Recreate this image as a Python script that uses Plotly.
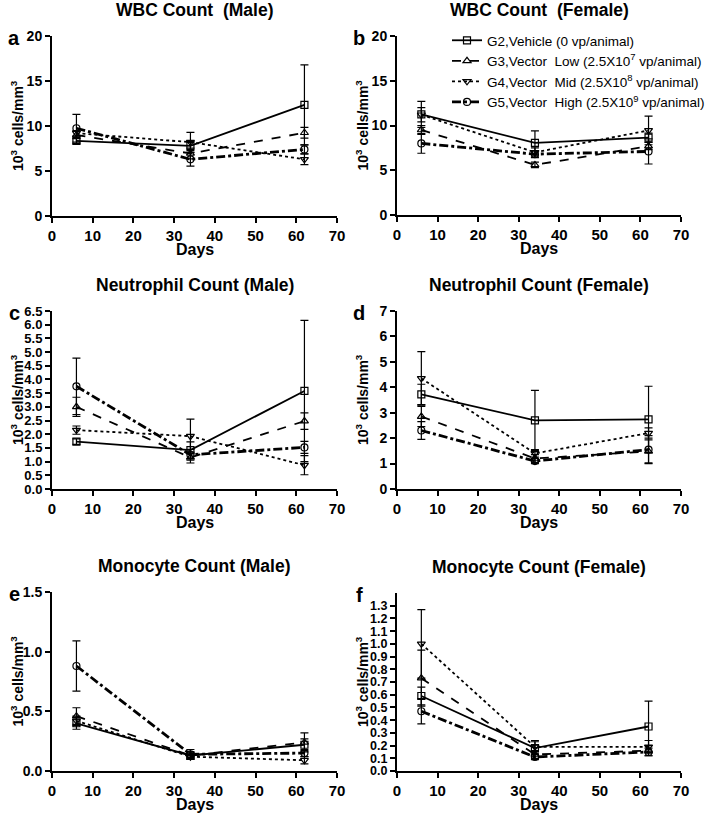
import plotly.graph_objects as go

days = [6, 34, 62]
groups = ["G2,Vehicle (0 vp/animal)",
          "G3,Vector  Low (2.5X10<sup>7</sup> vp/animal)",
          "G4,Vector  Mid (2.5X10<sup>8</sup> vp/animal)",
          "G5,Vector  High (2.5X10<sup>9</sup> vp/animal)"]

# WBC male
wbc_m_g2 = [8.35, 7.8, 12.35]; wbc_m_g2_sd = [0.3, 0.5, 4.45]
wbc_m_g3 = [9.0, 6.95, 9.25]; wbc_m_g3_sd = [0.4, 0.6, 0.6]
wbc_m_g4 = [9.2, 8.2, 6.3]; wbc_m_g4_sd = [0.3, 1.1, 0.6]
wbc_m_g5 = [9.75, 6.3, 7.4]; wbc_m_g5_sd = [1.55, 0.75, 0.5]
# WBC female
wbc_f_g2 = [11.25, 8.05, 8.65]; wbc_f_g2_sd = [1.45, 1.35, 0.5]
wbc_f_g3 = [9.5, 5.6, 7.7]; wbc_f_g3_sd = [0.5, 0.3, 0.4]
wbc_f_g4 = [11.2, 7.0, 9.45]; wbc_f_g4_sd = [0.8, 0.5, 1.6]
wbc_f_g5 = [8.0, 6.8, 7.1]; wbc_f_g5_sd = [1.1, 0.4, 1.4]
# Neutrophil male
neu_m_g2 = [1.73, 1.42, 3.58]; neu_m_g2_sd = [0.1, 0.3, 2.58]
neu_m_g3 = [3.0, 1.15, 2.48]; neu_m_g3_sd = [0.35, 0.2, 0.3]
neu_m_g4 = [2.15, 1.93, 0.87]; neu_m_g4_sd = [0.15, 0.62, 0.35]
neu_m_g5 = [3.75, 1.25, 1.52]; neu_m_g5_sd = [1.03, 0.2, 0.22]
# Neutrophil female
neu_f_g2 = [3.72, 2.7, 2.74]; neu_f_g2_sd = [0.4, 1.18, 1.3]
neu_f_g3 = [2.85, 1.2, 1.48]; neu_f_g3_sd = [0.4, 0.15, 0.45]
neu_f_g4 = [4.35, 1.4, 2.2]; neu_f_g4_sd = [1.05, 0.15, 0.2]
neu_f_g5 = [2.3, 1.1, 1.55]; neu_f_g5_sd = [0.35, 0.1, 0.55]
# Monocyte male
mon_m_g2 = [0.40, 0.13, 0.22]; mon_m_g2_sd = [0.05, 0.02, 0.05]
mon_m_g3 = [0.46, 0.13, 0.24]; mon_m_g3_sd = [0.07, 0.03, 0.08]
mon_m_g4 = [0.42, 0.12, 0.09]; mon_m_g4_sd = [0.04, 0.02, 0.03]
mon_m_g5 = [0.88, 0.14, 0.15]; mon_m_g5_sd = [0.21, 0.04, 0.03]
# Monocyte female
mon_f_g2 = [0.59, 0.18, 0.35]; mon_f_g2_sd = [0.07, 0.05, 0.2]
mon_f_g3 = [0.73, 0.13, 0.16]; mon_f_g3_sd = [0.22, 0.03, 0.04]
mon_f_g4 = [1.0, 0.19, 0.19]; mon_f_g4_sd = [0.27, 0.05, 0.05]
mon_f_g5 = [0.47, 0.11, 0.15]; mon_f_g5_sd = [0.1, 0.02, 0.03]

titles = ["WBC Count  (Male)", "WBC Count  (Female)",
          "Neutrophil Count (Male)", "Neutrophil Count (Female)",
          "Monocyte Count (Male)", "Monocyte Count (Female)"]
letters = ["a", "b", "c", "d", "e", "f"]

panels = [
    ([wbc_m_g2, wbc_m_g3, wbc_m_g4, wbc_m_g5], [wbc_m_g2_sd, wbc_m_g3_sd, wbc_m_g4_sd, wbc_m_g5_sd]),
    ([wbc_f_g2, wbc_f_g3, wbc_f_g4, wbc_f_g5], [wbc_f_g2_sd, wbc_f_g3_sd, wbc_f_g4_sd, wbc_f_g5_sd]),
    ([neu_m_g2, neu_m_g3, neu_m_g4, neu_m_g5], [neu_m_g2_sd, neu_m_g3_sd, neu_m_g4_sd, neu_m_g5_sd]),
    ([neu_f_g2, neu_f_g3, neu_f_g4, neu_f_g5], [neu_f_g2_sd, neu_f_g3_sd, neu_f_g4_sd, neu_f_g5_sd]),
    ([mon_m_g2, mon_m_g3, mon_m_g4, mon_m_g5], [mon_m_g2_sd, mon_m_g3_sd, mon_m_g4_sd, mon_m_g5_sd]),
    ([mon_f_g2, mon_f_g3, mon_f_g4, mon_f_g5], [mon_f_g2_sd, mon_f_g3_sd, mon_f_g4_sd, mon_f_g5_sd]),
]

W, H = 709, 815
# pixel boxes in page coordinates (left, right, top, bottom)
boxes = [(52, 337, 36, 216), (397, 681, 36, 215),
         (52, 337, 311, 489), (397, 681, 311, 489),
         (52, 337, 592, 771), (397, 681, 593, 771)]
yaxes_cfg = [
    dict(range=[0, 20], tickvals=[0, 5, 10, 15, 20], tickformat="d"),
    dict(range=[0, 20], tickvals=[0, 5, 10, 15, 20], tickformat="d"),
    dict(range=[0, 6.5], tickvals=[i * 0.5 for i in range(14)], tickformat=".1f"),
    dict(range=[0, 7], tickvals=list(range(8)), tickformat="d"),
    dict(range=[0, 1.5], tickvals=[0, 0.5, 1.0, 1.5], tickformat=".1f"),
    dict(range=[0, 1.4], tickvals=[i * 0.1 for i in range(14)], tickformat=".1f"),
]
ytick_sizes = [14, 14, 13, 14, 14, 12.5]

symbols = ["square-open", "triangle-up-open", "triangle-down-open", "circle-open"]
dashes = ["solid", "dash", "dot", "dashdot"]
lwidths = [1.8, 1.8, 1.8, 2.8]

FONT = "Liberation Sans, Arial, sans-serif"
fig = go.Figure()
annotations = []


def px(xp):
    return xp / W


def py(yp):
    return 1 - yp / H


for p, (vals, sds) in enumerate(panels):
    ax = "" if p == 0 else str(p + 1)
    for g in range(4):
        fig.add_trace(go.Scatter(
            x=days, y=vals[g], name=groups[g], mode="lines+markers",
            xaxis="x" + ax, yaxis="y" + ax,
            line=dict(color="black", width=lwidths[g], dash=dashes[g]),
            marker=dict(symbol=symbols[g], size=7, color="black",
                        line=dict(width=1.2, color="black")),
            error_y=dict(type="data", array=sds[g], visible=True,
                         color="black", thickness=1.2, width=4),
            showlegend=(p == 0), legendgroup=groups[g],
        ))
    l, r, t, b = boxes[p]
    common = dict(showline=True, linecolor="black", linewidth=2, ticks="outside",
                  ticklen=5, tickwidth=2, tickcolor="black", showgrid=False,
                  zeroline=False, automargin=False, mirror=False)
    fig.update_layout(**{
        "xaxis" + ax: dict(domain=[px(l), px(r)], anchor="y" + ax, range=[0, 70],
                           tickvals=[0, 10, 20, 30, 40, 50, 60, 70],
                           tickfont=dict(family=FONT, size=15, color="black", weight="bold"),
                           **common),
        "yaxis" + ax: dict(domain=[py(b), py(t)], anchor="x" + ax,
                           tickfont=dict(family=FONT, size=ytick_sizes[p], color="black",
                                         weight="bold"),
                           **yaxes_cfg[p], **common),
    })
    cx = px((l + r) / 2)
    annotations.append(dict(text="<b>" + titles[p] + "</b>", x=cx, y=py(t - 26),
                            xref="paper", yref="paper", showarrow=False,
                            font=dict(family=FONT, size=17.5, color="black"),
                            xanchor="center", yanchor="middle"))
    annotations.append(dict(text="<b>Days</b>", x=cx, y=py(b + 33),
                            xref="paper", yref="paper", showarrow=False,
                            font=dict(family=FONT, size=16, color="black"),
                            xanchor="center", yanchor="middle"))
    annotations.append(dict(text="<b>10<sup>3</sup> cells/mm<sup>3</sup></b>",
                            x=px(l - 35), y=py((t + b) / 2),
                            xref="paper", yref="paper", showarrow=False, textangle=-90,
                            font=dict(family=FONT, size=14, color="black"),
                            xanchor="center", yanchor="middle"))
    annotations.append(dict(text="<b>" + letters[p] + "</b>", x=px(l - 38),
                            y=py(t + 2), xref="paper", yref="paper",
                            showarrow=False, font=dict(family=FONT, size=20, color="black"),
                            xanchor="center", yanchor="middle"))

fig.update_layout(
    width=W, height=H, margin=dict(l=0, r=0, t=0, b=0, autoexpand=False),
    paper_bgcolor="white", plot_bgcolor="white",
    annotations=annotations,
    showlegend=True,
    legend=dict(x=px(447), y=py(25), xanchor="left", yanchor="top",
                font=dict(family=FONT, size=13.5, color="black"),
                bgcolor="rgba(0,0,0,0)", tracegroupgap=0, itemwidth=30),
)
fig.write_html("out.html", config={"displayModeBar": False},
               post_script="document.body.style.margin='0';"
                           "document.body.style.overflow='hidden';")
